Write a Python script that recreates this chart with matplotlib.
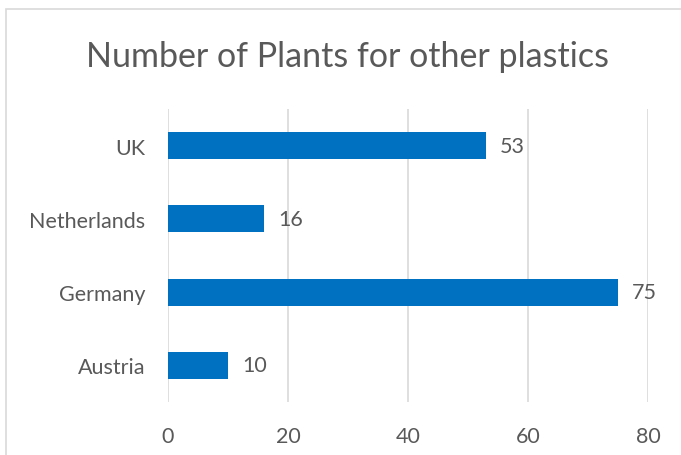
import matplotlib
matplotlib.use("Agg")
import matplotlib.pyplot as plt
from matplotlib.patches import Rectangle

categories = ["Austria", "Germany", "Netherlands", "UK"]
values = [10, 75, 16, 53]
xticks = [0, 20, 40, 60, 80]

plt.rcParams['font.family'] = ['Lato', 'DejaVu Sans']
W, H = 681, 456
fig = plt.figure(figsize=(W/100, H/100), dpi=100)
ax = fig.add_axes([168/W, 1-403/H, (648-168)/W, (403-110)/H])

txt = '#595959'
ax.barh(range(len(categories)), values, height=0.37, color='#0070C0', zorder=3)
for i, v in enumerate(values):
    ax.annotate(str(v), (v, i), xytext=(10, 0), textcoords='offset points',
                va='center', ha='left', fontsize=15.5, color=txt)
ax.set_xlim(0, 80)
ax.set_ylim(-0.5, len(categories)-0.5)
ax.set_xticks(xticks)
ax.set_xticklabels([str(t) for t in xticks], fontsize=15.5, color=txt)
ax.set_yticks(range(len(categories)))
ax.set_yticklabels(categories, fontsize=15.5, color=txt)
ax.tick_params(axis='both', length=0)
ax.tick_params(axis='x', pad=17)
ax.tick_params(axis='y', pad=16.5)
ax.grid(axis='x', color='#D9D9D9', linewidth=1.2, zorder=0)
for s in ax.spines.values():
    s.set_visible(False)

fig.text(348/W, 1-57/H, "Number of Plants for other plastics", ha='center', va='center',
         fontsize=24.5, color=txt)
fig.patches.append(Rectangle((6/W, -0.1), 1.2, 1-10/H+0.1, transform=fig.transFigure,
                             fill=False, edgecolor='#D9D9D9', linewidth=1.2))
fig.savefig("out.png", dpi=100)
